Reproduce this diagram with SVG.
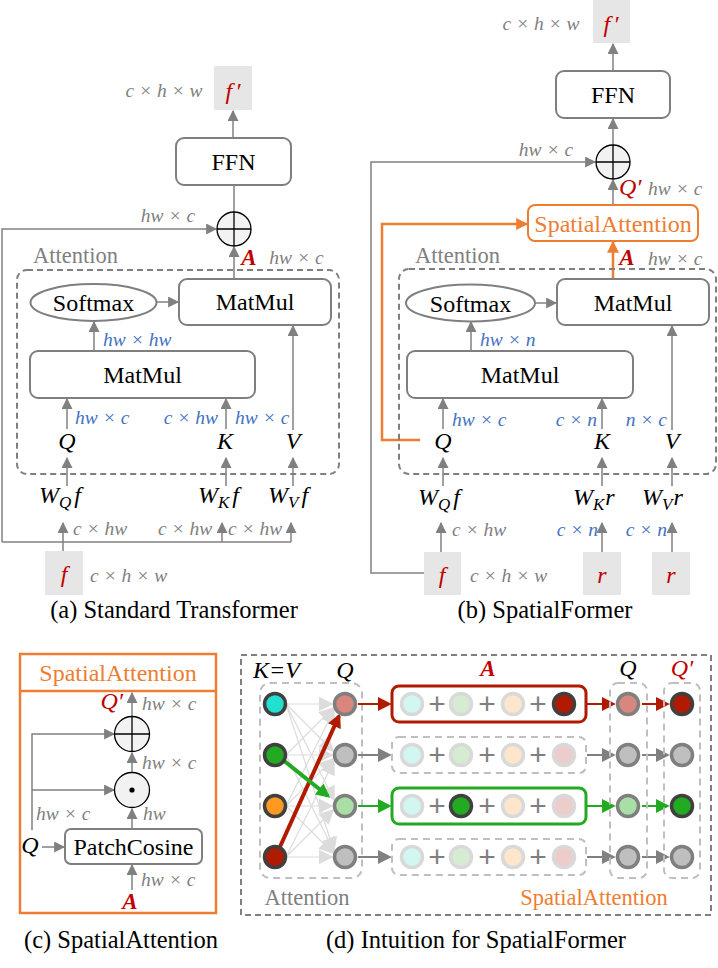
<svg xmlns="http://www.w3.org/2000/svg" width="718" height="968" viewBox="0 0 718 968">
<style>
text{font-family:"Liberation Serif",serif}
.t{font-size:24px;fill:#000}
.cap{font-size:24.5px;fill:#000;text-anchor:middle}
.d{font-size:19.5px;font-style:italic;fill:#7f7f7f}
.bl{fill:#4472c4}
.m{font-size:24px;font-style:italic;fill:#000}
.r{fill:#c00000}
.A{font-size:23px;font-style:italic;font-weight:bold;fill:#c00000}
.mid{text-anchor:middle}
.end{text-anchor:end}
.gl{font-size:22.5px;fill:#7f7f7f}
.or{fill:#ed7d31}
.bx{fill:#fff;stroke:#7f7f7f;stroke-width:2}
.fb{fill:#e6e6e6}
.ln{stroke:#808080;stroke-width:1.5;fill:none}
.lo{stroke:#ed7d31;stroke-width:2.5;fill:none}
.op{fill:#f2f2f2;stroke:#000;stroke-width:1.3}
.dash{fill:none;stroke:#7f7f7f;stroke-width:2;stroke-dasharray:6 4}
.ldash{fill:none;stroke:#bfbfbf;stroke-width:2;stroke-dasharray:7 5}
.thin{stroke:#dcdcdc;stroke-width:1.2;fill:none}
.pl{font-family:"Liberation Sans",sans-serif;font-size:30px;fill:#7f7f7f;text-anchor:middle}
</style>
<defs>
<marker id="ag" viewBox="0 0 10 10" refX="9" refY="5" markerWidth="11" markerHeight="11" markerUnits="userSpaceOnUse" orient="auto"><path d="M0,0 L10,5 L0,10 z" fill="#808080"/></marker>
<marker id="ao" viewBox="0 0 10 10" refX="9" refY="5" markerWidth="12" markerHeight="12" markerUnits="userSpaceOnUse" orient="auto"><path d="M0,0 L10,5 L0,10 z" fill="#ed7d31"/></marker>
<marker id="ar" viewBox="0 0 10 10" refX="8" refY="5" markerWidth="14" markerHeight="14" markerUnits="userSpaceOnUse" orient="auto"><path d="M0,0 L10,5 L0,10 z" fill="#b01a00"/></marker>
<marker id="agr" viewBox="0 0 10 10" refX="8" refY="5" markerWidth="14" markerHeight="14" markerUnits="userSpaceOnUse" orient="auto"><path d="M0,0 L10,5 L0,10 z" fill="#22aa22"/></marker>
<marker id="agy" viewBox="0 0 10 10" refX="8" refY="5" markerWidth="14" markerHeight="14" markerUnits="userSpaceOnUse" orient="auto"><path d="M0,0 L10,5 L0,10 z" fill="#808080"/></marker>
<marker id="alt" viewBox="0 0 10 10" refX="9" refY="5" markerWidth="15" markerHeight="15" markerUnits="userSpaceOnUse" orient="auto"><path d="M0,0 L10,5 L0,10 z" fill="#dcdcdc"/></marker>
</defs>
<rect width="718" height="968" fill="#fff"/>

<!-- ============ Panel (a) ============ -->
<g id="a-connectors">
<line class="ln" x1="233" y1="138" x2="233" y2="111" marker-end="url(#ag)"/>
<line class="ln" x1="234" y1="212" x2="234" y2="139" marker-end="url(#ag)"/>
<polyline class="ln" points="2,542 2,229 216,229" marker-end="url(#ag)"/>
<line class="ln" x1="2" y1="542" x2="291" y2="542"/>
<line class="ln" x1="234" y1="279" x2="234" y2="247" marker-end="url(#ag)"/>
<line class="ln" x1="157" y1="302" x2="178" y2="302" marker-end="url(#ag)"/>
<line class="ln" x1="94" y1="351" x2="94" y2="322" marker-end="url(#ag)"/>
<line class="ln" x1="67" y1="429" x2="67" y2="399" marker-end="url(#ag)"/>
<line class="ln" x1="226" y1="429" x2="226" y2="399" marker-end="url(#ag)"/>
<line class="ln" x1="293" y1="430" x2="293" y2="326" marker-end="url(#ag)"/>
<line class="ln" x1="67" y1="486" x2="67" y2="458" marker-end="url(#ag)"/>
<line class="ln" x1="226" y1="486" x2="226" y2="458" marker-end="url(#ag)"/>
<line class="ln" x1="293" y1="486" x2="293" y2="458" marker-end="url(#ag)"/>
<line class="ln" x1="63" y1="551" x2="63" y2="523" marker-end="url(#ag)"/>
<line class="ln" x1="222" y1="542" x2="222" y2="523" marker-end="url(#ag)"/>
<line class="ln" x1="291" y1="542" x2="291" y2="523" marker-end="url(#ag)"/>
</g>
<g id="a-fprime"><rect class="fb" x="214" y="66" width="38" height="44"/><text class="m r mid" x="233" y="99" font-size="26">f<tspan dx="3">′</tspan></text><text class="d mid" x="164" y="97">c × h × w</text></g>
<g id="a-ffn"><rect class="bx" x="176" y="138" width="115" height="47" rx="8"/><text class="t mid" x="233.5" y="170">FFN</text></g>
<g id="a-add"><circle class="op" cx="234" cy="229" r="17"/><line stroke="#000" stroke-width="1.3" x1="217" y1="229" x2="251" y2="229"/><line stroke="#000" stroke-width="1.3" x1="234" y1="212" x2="234" y2="246"/><text class="d mid" x="168" y="222">hw × c</text></g>
<g id="a-attention"><rect class="dash" x="17" y="270" width="322" height="204" rx="10"/><text class="gl" x="33" y="263">Attention</text><text class="A mid" x="249" y="265">A</text><text class="d mid" x="296.5" y="264">hw × c</text></g>
<g id="a-matmul2"><rect class="bx" x="179" y="279" width="152" height="46" rx="8"/><text class="t mid" x="255" y="310">MatMul</text></g>
<g id="a-softmax"><ellipse cx="93.5" cy="302.5" rx="63" ry="18.5" fill="#fff" stroke="#7f7f7f" stroke-width="2"/><text class="t mid" x="93.5" y="311">Softmax</text></g>
<g id="a-matmul1"><rect class="bx" x="30" y="351" width="225" height="47" rx="8"/><text class="t mid" x="142.5" y="383">MatMul</text><text class="d bl" x="103" y="346">hw × hw</text></g>
<g id="a-qkv">
<text class="d bl" x="75" y="424">hw × c</text><text class="d bl end" x="218" y="424">c × hw</text><text class="d bl" x="235" y="424">hw × c</text>
<text class="m mid" x="67" y="449">Q</text><text class="m mid" x="225" y="449">K</text><text class="m mid" x="293" y="449">V</text>
</g>
<g id="a-w">
<text class="m" x="39" y="503">W<tspan font-size="17" dy="5">Q</tspan><tspan dx="3" dy="-5">f</tspan></text>
<text class="m" x="198" y="503">W<tspan font-size="17" dy="5">K</tspan><tspan dx="3" dy="-5">f</tspan></text>
<text class="m" x="268" y="503">W<tspan font-size="17" dy="5">V</tspan><tspan dx="3" dy="-5">f</tspan></text>
<text class="d" x="73" y="535">c × hw</text><text class="d" x="158" y="535">c × hw</text><text class="d" x="228" y="535">c × hw</text>
</g>
<g id="a-f"><rect class="fb" x="45" y="551" width="38" height="44"/><text class="m r mid" x="64" y="582" font-size="26">f</text><text class="d" x="90" y="582">c × h × w</text></g>
<text class="cap" x="174" y="618">(a) Standard Transformer</text>

<!-- ============ Panel (b) ============ -->
<g id="b-connectors">
<line class="ln" x1="613" y1="71" x2="613" y2="44" marker-end="url(#ag)"/>
<line class="ln" x1="613" y1="145" x2="613" y2="119" marker-end="url(#ag)"/>
<polyline class="ln" points="424,573 371,573 371,162 595,162" marker-end="url(#ag)"/>
<line class="ln" x1="613" y1="205" x2="613" y2="180" marker-end="url(#ag)"/>
<polyline class="lo" points="420,440 382,440 382,224 527,224" marker-end="url(#ao)"/>
<line class="lo" x1="613" y1="279" x2="613" y2="242" marker-end="url(#ao)"/>
<line class="ln" x1="535" y1="303" x2="556" y2="303" marker-end="url(#ag)"/>
<line class="ln" x1="471" y1="351" x2="471" y2="322" marker-end="url(#ag)"/>
<line class="ln" x1="443" y1="429" x2="443" y2="399" marker-end="url(#ag)"/>
<line class="ln" x1="602" y1="429" x2="602" y2="399" marker-end="url(#ag)"/>
<line class="ln" x1="672" y1="430" x2="672" y2="326" marker-end="url(#ag)"/>
<line class="ln" x1="443" y1="486" x2="443" y2="458" marker-end="url(#ag)"/>
<line class="ln" x1="602" y1="486" x2="602" y2="458" marker-end="url(#ag)"/>
<line class="ln" x1="672" y1="486" x2="672" y2="458" marker-end="url(#ag)"/>
<line class="ln" x1="441" y1="552" x2="441" y2="523" marker-end="url(#ag)"/>
<line class="ln" x1="602" y1="552" x2="602" y2="523" marker-end="url(#ag)"/>
<line class="ln" x1="672" y1="552" x2="672" y2="523" marker-end="url(#ag)"/>
</g>
<g id="b-fprime"><rect class="fb" x="593" y="0" width="37" height="43"/><text class="m r mid" x="611" y="32" font-size="26">f<tspan dx="3">′</tspan></text><text class="d mid" x="541" y="30">c × h × w</text></g>
<g id="b-ffn"><rect class="bx" x="556" y="71" width="114" height="47" rx="8"/><text class="t mid" x="613" y="103">FFN</text></g>
<g id="b-add"><circle class="op" cx="613" cy="162" r="17"/><line stroke="#000" stroke-width="1.3" x1="596" y1="162" x2="630" y2="162"/><line stroke="#000" stroke-width="1.3" x1="613" y1="145" x2="613" y2="179"/><text class="d mid" x="546" y="156">hw × c</text><text class="m r" x="619" y="195">Q′</text><text class="d" x="648" y="195">hw × c</text></g>
<g id="b-spatialattention"><rect x="528" y="205" width="170" height="36" rx="7" fill="#fff" stroke="#ed7d31" stroke-width="2"/><text class="t mid or" x="613" y="232">SpatialAttention</text></g>
<g id="b-attention"><rect class="dash" x="399" y="269" width="317" height="205" rx="10"/><text class="gl" x="415" y="263">Attention</text><text class="A mid" x="627" y="265">A</text><text class="d" x="648" y="265">hw × c</text></g>
<g id="b-matmul2"><rect class="bx" x="557" y="279" width="152" height="46" rx="8"/><text class="t mid" x="633" y="311">MatMul</text></g>
<g id="b-softmax"><ellipse cx="470.5" cy="303" rx="64.5" ry="18.5" fill="#fff" stroke="#7f7f7f" stroke-width="2"/><text class="t mid" x="470.5" y="311.5">Softmax</text></g>
<g id="b-matmul1"><rect class="bx" x="407" y="351" width="226" height="47" rx="8"/><text class="t mid" x="520" y="383">MatMul</text><text class="d bl" x="480" y="346">hw × n</text></g>
<g id="b-qkv">
<text class="d bl" x="452" y="426">hw × c</text><text class="d bl end" x="597" y="426">c × n</text><text class="d bl end" x="667" y="426">n × c</text>
<text class="m mid" x="443" y="449">Q</text><text class="m mid" x="602" y="449">K</text><text class="m mid" x="672" y="449">V</text>
</g>
<g id="b-w">
<text class="m" x="418" y="505">W<tspan font-size="17" dy="5">Q</tspan><tspan dx="3" dy="-5">f</tspan></text>
<text class="m" x="573" y="505">W<tspan font-size="17" dy="5">K</tspan><tspan dx="1" dy="-5">r</tspan></text>
<text class="m" x="642" y="505">W<tspan font-size="17" dy="5">V</tspan><tspan dx="1" dy="-5">r</tspan></text>
<text class="d" x="452" y="536">c × hw</text><text class="d bl end" x="598" y="536">c × n</text><text class="d bl end" x="667" y="536">c × n</text>
</g>
<g id="b-f"><rect class="fb" x="424" y="552" width="37" height="43"/><text class="m r mid" x="442" y="583" font-size="26">f</text><text class="d" x="470" y="582">c × h × w</text></g>
<g id="b-r1"><rect class="fb" x="583" y="552" width="38" height="43"/><text class="m r mid" x="602" y="583" font-size="26">r</text></g>
<g id="b-r2"><rect class="fb" x="652" y="552" width="38" height="43"/><text class="m r mid" x="671" y="583" font-size="26">r</text></g>
<text class="cap" x="545" y="618">(b) SpatialFormer</text>

<!-- ============ Panel (c) ============ -->
<g id="c-frame"><rect x="20" y="654" width="196" height="259" fill="none" stroke="#ed7d31" stroke-width="2.5"/><line x1="20" y1="691" x2="216" y2="691" stroke="#ed7d31" stroke-width="2.5"/><text class="t mid or" x="118" y="681">SpatialAttention</text></g>
<g id="c-connectors">
<line class="ln" x1="132" y1="716" x2="132" y2="693" marker-end="url(#ag)"/>
<line class="ln" x1="132" y1="772" x2="132" y2="753" marker-end="url(#ag)"/>
<line class="ln" x1="132" y1="829" x2="132" y2="809" marker-end="url(#ag)"/>
<line class="ln" x1="42" y1="847" x2="64" y2="847" marker-end="url(#ag)"/>
<polyline class="ln" points="32,830 32,734 114,734" marker-end="url(#ag)"/>
<line class="ln" x1="32" y1="790" x2="114" y2="790" marker-end="url(#ag)"/>
<line class="ln" x1="132" y1="890" x2="132" y2="865" marker-end="url(#ag)"/>
</g>
<g id="c-add"><circle class="op" cx="132" cy="734" r="17.5"/><line stroke="#000" stroke-width="1.3" x1="114.5" y1="734" x2="149.5" y2="734"/><line stroke="#000" stroke-width="1.3" x1="132" y1="716.5" x2="132" y2="751.5"/><text class="m r end" x="123" y="709">Q′</text><text class="d" x="142" y="710">hw × c</text><text class="d" x="142" y="769">hw × c</text></g>
<g id="c-mul"><circle class="op" cx="132" cy="790" r="17.5"/><circle cx="132" cy="790" r="2.6" fill="#000"/><text class="d" x="143" y="820">hw</text><text class="d" x="36" y="820">hw × c</text></g>
<g id="c-patchcosine"><rect class="bx" x="65" y="829" width="137" height="35" rx="6"/><text class="t mid" x="133.5" y="855">PatchCosine</text><text class="m mid" x="30" y="853">Q</text></g>
<g id="c-A"><text class="A mid" x="130" y="909">A</text><text class="d" x="141" y="886">hw × c</text></g>
<text class="cap" x="121" y="948">(c) SpatialAttention</text>

<!-- ============ Panel (d) ============ -->
<g id="d-frame"><rect class="dash" x="241" y="655" width="470" height="260"/></g>
<g id="d-attention">
<rect class="ldash" x="260" y="683" width="102" height="195" rx="10"/>
<text class="m" x="253" y="678" font-size="22">K=V</text><text class="m mid" x="345" y="678" font-size="22">Q</text>
<text class="gl mid" x="307" y="905">Attention</text>
</g>
<g id="d-connectors">
<g class="thin">
<line x1="286" y1="704" x2="332" y2="704" marker-end="url(#alt)"/>
<line x1="286" y1="704" x2="333" y2="751" marker-end="url(#alt)"/>
<line x1="286" y1="704" x2="334" y2="800" marker-end="url(#alt)"/>
<line x1="286" y1="704" x2="334" y2="851" marker-end="url(#alt)"/>
<line x1="286" y1="755" x2="333" y2="708" marker-end="url(#alt)"/>
<line x1="286" y1="755" x2="332" y2="755" marker-end="url(#alt)"/>
<line x1="286" y1="755" x2="334" y2="851" marker-end="url(#alt)"/>
<line x1="286" y1="806" x2="334" y2="710" marker-end="url(#alt)"/>
<line x1="286" y1="806" x2="333" y2="759" marker-end="url(#alt)"/>
<line x1="286" y1="806" x2="332" y2="806" marker-end="url(#alt)"/>
<line x1="286" y1="806" x2="333" y2="853" marker-end="url(#alt)"/>
<line x1="286" y1="857" x2="334" y2="761" marker-end="url(#alt)"/>
<line x1="286" y1="857" x2="333" y2="810" marker-end="url(#alt)"/>
<line x1="286" y1="857" x2="332" y2="857" marker-end="url(#alt)"/>
</g>
<line x1="279" y1="849" x2="339" y2="716" stroke="#b01a00" stroke-width="4" marker-end="url(#ar)"/>
<line x1="283" y1="760" x2="328" y2="796" stroke="#22aa22" stroke-width="4" marker-end="url(#agr)"/>
<line x1="358" y1="704" x2="389" y2="704" stroke="#b01a00" stroke-width="2" marker-end="url(#ar)"/>
<line x1="358" y1="755" x2="389" y2="755" stroke="#808080" stroke-width="2" marker-end="url(#agy)"/>
<line x1="358" y1="806" x2="389" y2="806" stroke="#22aa22" stroke-width="2" marker-end="url(#agr)"/>
<line x1="358" y1="857" x2="389" y2="857" stroke="#808080" stroke-width="2" marker-end="url(#agy)"/>
<line x1="587" y1="704" x2="613" y2="704" stroke="#b01a00" stroke-width="2" marker-end="url(#ar)"/>
<line x1="587" y1="755" x2="613" y2="755" stroke="#808080" stroke-width="2" marker-end="url(#agy)"/>
<line x1="587" y1="806" x2="613" y2="806" stroke="#22aa22" stroke-width="2" marker-end="url(#agr)"/>
<line x1="587" y1="857" x2="613" y2="857" stroke="#808080" stroke-width="2" marker-end="url(#agy)"/>
<line x1="642" y1="704" x2="667" y2="704" stroke="#b01a00" stroke-width="2" marker-end="url(#ar)"/>
<line x1="642" y1="755" x2="667" y2="755" stroke="#808080" stroke-width="2" marker-end="url(#agy)"/>
<line x1="642" y1="806" x2="667" y2="806" stroke="#22aa22" stroke-width="2" marker-end="url(#agr)"/>
<line x1="642" y1="857" x2="667" y2="857" stroke="#808080" stroke-width="2" marker-end="url(#agy)"/>
</g>
<g id="d-kv-nodes" stroke="#404040" stroke-width="3.5">
<circle cx="275" cy="704" r="10.5" fill="#22e0d0"/>
<circle cx="275" cy="755" r="10.5" fill="#22aa22"/>
<circle cx="275" cy="806" r="10.5" fill="#ff9922"/>
<circle cx="275" cy="857" r="10.5" fill="#b01a00"/>
</g>
<g id="d-q-nodes" stroke="#7f7f7f" stroke-width="3.5">
<circle cx="345" cy="704" r="10.5" fill="#d9877e"/>
<circle cx="345" cy="755" r="10.5" fill="#bfbfbf"/>
<circle cx="345" cy="806" r="10.5" fill="#a9dfa4"/>
<circle cx="345" cy="857" r="10.5" fill="#bfbfbf"/>
</g>
<g id="d-A">
<text class="A mid" x="488" y="676">A</text>
<rect x="392" y="686" width="194" height="36" rx="7" fill="none" stroke="#b01a00" stroke-width="3"/>
<rect class="ldash" x="392" y="737" width="194" height="36" rx="7"/>
<rect x="392" y="788" width="194" height="36" rx="7" fill="none" stroke="#22aa22" stroke-width="3"/>
<rect class="ldash" x="392" y="839" width="194" height="36" rx="7"/>
<g stroke="#d9d9d9" stroke-width="3.5">
<circle cx="412" cy="704" r="10.5" fill="#d2f6f2"/><circle cx="461" cy="704" r="10.5" fill="#d6ecd2"/><circle cx="513" cy="704" r="10.5" fill="#fde6cc"/><circle cx="564" cy="704" r="10.5" fill="#b01a00" stroke="#404040"/>
<circle cx="412" cy="755" r="10.5" fill="#d2f6f2"/><circle cx="461" cy="755" r="10.5" fill="#d6ecd2"/><circle cx="513" cy="755" r="10.5" fill="#fde6cc"/><circle cx="564" cy="755" r="10.5" fill="#edcdcb"/>
<circle cx="412" cy="806" r="10.5" fill="#d2f6f2"/><circle cx="461" cy="806" r="10.5" fill="#22aa22" stroke="#404040"/><circle cx="513" cy="806" r="10.5" fill="#fde6cc"/><circle cx="564" cy="806" r="10.5" fill="#edcdcb"/>
<circle cx="412" cy="857" r="10.5" fill="#d2f6f2"/><circle cx="461" cy="857" r="10.5" fill="#d6ecd2"/><circle cx="513" cy="857" r="10.5" fill="#fde6cc"/><circle cx="564" cy="857" r="10.5" fill="#edcdcb"/>
</g>
<text class="pl" x="437" y="714">+</text><text class="pl" x="487" y="714">+</text><text class="pl" x="538" y="714">+</text>
<text class="pl" x="437" y="765">+</text><text class="pl" x="487" y="765">+</text><text class="pl" x="538" y="765">+</text>
<text class="pl" x="437" y="816">+</text><text class="pl" x="487" y="816">+</text><text class="pl" x="538" y="816">+</text>
<text class="pl" x="437" y="867">+</text><text class="pl" x="487" y="867">+</text><text class="pl" x="538" y="867">+</text>
</g>
<g id="d-q2">
<rect class="ldash" x="610" y="683" width="37" height="195" rx="8"/>
<text class="m mid" x="628" y="676" font-size="22">Q</text>
<g stroke="#7f7f7f" stroke-width="3.5">
<circle cx="628" cy="704" r="10.5" fill="#d9877e"/><circle cx="628" cy="755" r="10.5" fill="#bfbfbf"/><circle cx="628" cy="806" r="10.5" fill="#a9dfa4"/><circle cx="628" cy="857" r="10.5" fill="#bfbfbf"/>
</g>
</g>
<g id="d-qprime">
<rect class="ldash" x="664" y="683" width="36" height="195" rx="8"/>
<text class="m r mid" x="682" y="676" font-size="22">Q′</text>
<g stroke-width="3.5">
<circle cx="682" cy="704" r="10.5" fill="#b01a00" stroke="#404040"/><circle cx="682" cy="755" r="10.5" fill="#bfbfbf" stroke="#7f7f7f"/><circle cx="682" cy="806" r="10.5" fill="#22aa22" stroke="#404040"/><circle cx="682" cy="857" r="10.5" fill="#bfbfbf" stroke="#7f7f7f"/>
</g>
<text class="mid or" x="594" y="905" font-size="22.5">SpatialAttention</text>
</g>
<text class="cap" x="476" y="948">(d) Intuition for SpatialFormer</text>
</svg>
